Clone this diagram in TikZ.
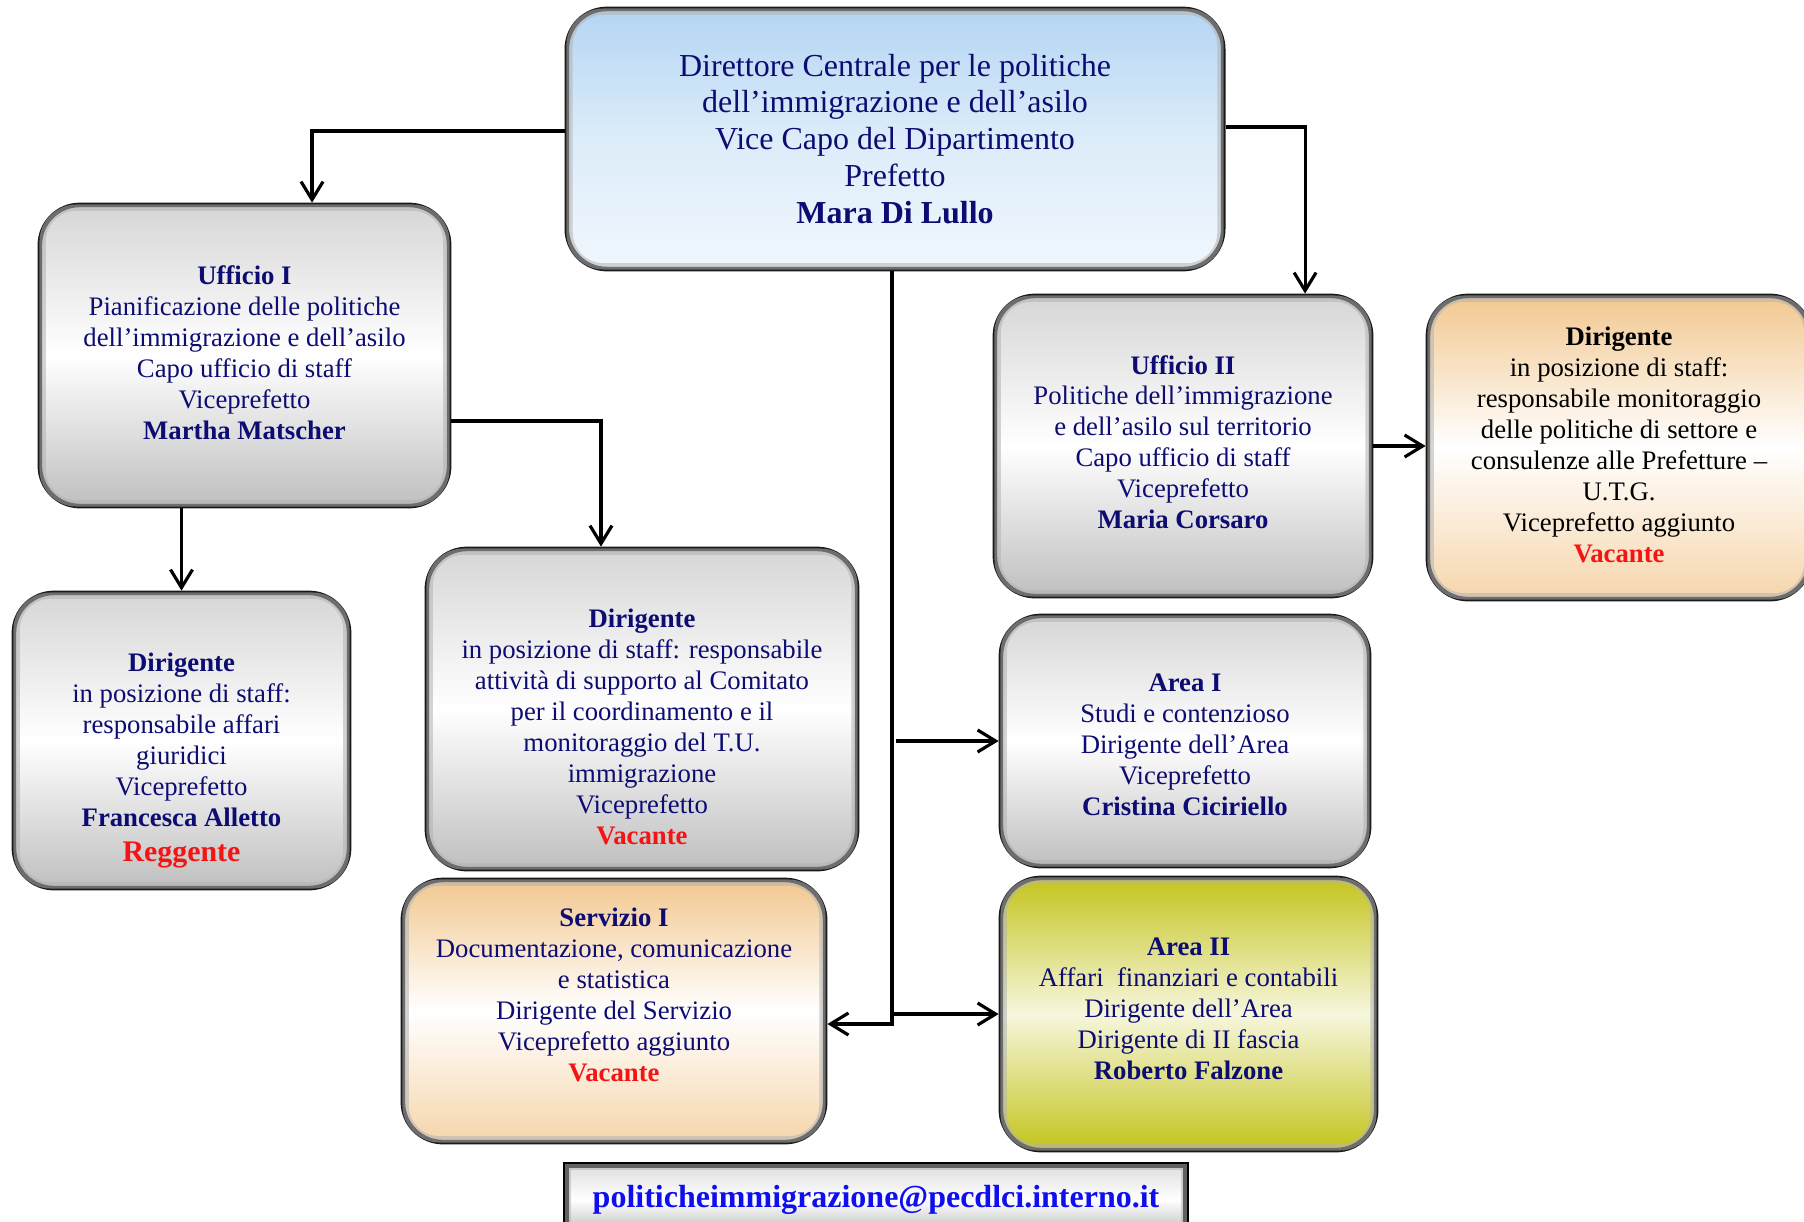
\documentclass[tikz,border=0pt]{standalone}
\usepackage{fontspec}
\setmainfont{Liberation Serif}
\usepackage{xcolor}
\usetikzlibrary{positioning, arrows.meta}
\definecolor{orgnavy}{HTML}{0C0C72}
\definecolor{orgred}{HTML}{F41414}
\definecolor{orgblue}{HTML}{0E0EEE}
\definecolor{orgskytop}{HTML}{B3D5F3}
\definecolor{orgskybot}{HTML}{F0F7FD}
\definecolor{orgpeach}{HTML}{F2C890}
\definecolor{orglime}{HTML}{C4C41E}
\newcommand{\boxfont}{\fontsize{7.6}{8.8}\selectfont}
\newcommand{\vacante}{\textcolor{orgred}{\textbf{Vacante}}}
\newcommand{\padtop}[1]{\rule{0pt}{\dimexpr#1+0.7em\relax}}
\newcommand{\padbot}[1]{\rule[-#1]{0pt}{#1}}

\tikzset{
  box/.style={rectangle, rounded corners=0.4cm, draw=black!90, line width=1.3pt, align=center, text=orgnavy, font=\boxfont, inner sep=0pt},
  greybox/.style={box, top color=gray!32, bottom color=gray!50, middle color=white},
  skybox/.style={box, top color=orgskytop, bottom color=orgskybot, middle color=orgskytop!45},
  peachbox/.style={box, top color=orgpeach, bottom color=orgpeach!75, middle color=white},
  limebox/.style={box, top color=orglime, bottom color=orglime, middle color=orglime!15},
  mailbox/.style={rectangle, draw=black, line width=1.6pt, top color=gray!25, bottom color=gray!55, middle color=white, text=orgblue, font=\fontsize{9.1}{11}\selectfont\bfseries, inner sep=0pt},
  bevel/.style={draw=gray!60, line width=1.8pt, opacity=0.55, rounded corners=0.34cm},
  conn/.style={line width=0.9pt, -{Straight Barb[length=1.8mm,width=2.2mm]}},
}

\begin{document}
\begin{tikzpicture}[x=0.01cm, y=-0.01cm]
  \useasboundingbox (0,0) rectangle (1804,1221);
  \node[skybox, minimum width=6.56cm, minimum height=2.6cm, font=\fontsize{9.1}{10.5}\selectfont] (dir) at (895,139)
    {Direttore Centrale per le politiche\\dell’immigrazione e dell’asilo\\Vice Capo del Dipartimento\\Prefetto\\\textbf{Mara Di Lullo}};
  \node[greybox, minimum width=4.09cm, minimum height=3.01cm] (uff1) at (244.5,355.5)
    {\textbf{Ufficio I}\\Pianificazione delle politiche\\dell’immigrazione e dell’asilo\\Capo ufficio di staff\\Viceprefetto\\\textbf{Martha Matscher}\padbot{0.06cm}};
  \node[greybox, minimum width=3.35cm, minimum height=2.95cm] (dirA) at (181.5,740.5)
    {\padtop{0.4cm}\textbf{Dirigente}\\in posizione di staff:\\responsabile affari\\giuridici\\Viceprefetto\\\textbf{Francesca Alletto}\\[1pt]\textcolor{orgred}{\fontsize{8.5}{10}\selectfont\textbf{Reggente}}};
  \node[greybox, minimum width=4.3cm, minimum height=3.2cm] (dirB) at (642,709)
    {\padtop{0.36cm}\textbf{Dirigente}\\in posizione di staff: responsabile\\attività di supporto al Comitato\\per il coordinamento e il\\monitoraggio del T.U.\\immigrazione\\Viceprefetto\\\vacante};
  \node[peachbox, minimum width=4.22cm, minimum height=2.62cm] (serv) at (614,1011)
    {\textbf{Servizio I}\\Documentazione, comunicazione\\e statistica\\Dirigente del Servizio\\Viceprefetto aggiunto\\\vacante\padbot{0.32cm}};
  \node[greybox, minimum width=3.76cm, minimum height=3.0cm] (uff2) at (1183,446)
    {\textbf{Ufficio II}\\Politiche dell’immigrazione\\e dell’asilo sul territorio\\Capo ufficio di staff\\Viceprefetto\\\textbf{Maria Corsaro}\padbot{0.08cm}};
  \node[peachbox, minimum width=3.82cm, minimum height=3.03cm, text=black] (dirC) at (1619,447.5)
    {\textbf{Dirigente}\\in posizione di staff:\\responsabile monitoraggio\\delle politiche di settore e\\consulenze alle Prefetture –\\U.T.G.\\Viceprefetto aggiunto\\\vacante\padbot{0.06cm}};
  \node[greybox, minimum width=3.68cm, minimum height=2.5cm] (area1) at (1185,741)
    {\padtop{0.07cm}\textbf{Area I}\\Studi e contenzioso\\Dirigente dell’Area\\Viceprefetto\\\textbf{Cristina Ciciriello}};
  \node[limebox, minimum width=3.75cm, minimum height=2.72cm] (area2) at (1188.5,1014)
    {\textbf{Area II}\\Affari\ \ finanziari e contabili\\Dirigente dell’Area\\Dirigente di II fascia\\\textbf{Roberto Falzone}\padbot{0.1cm}};
  \node[mailbox, minimum width=6.2cm, minimum height=0.7cm] (mail) at (876,1200)
    {politicheimmigrazione@pecdlci.interno.it};
  \foreach \n in {dir,uff1,dirA,dirB,serv,uff2,dirC,area1,area2}
    \draw[bevel] ([shift={(0.05cm,0.05cm)}]\n.south west) rectangle ([shift={(-0.05cm,-0.05cm)}]\n.north east);
  \draw[draw=gray!60, line width=1.8pt, opacity=0.55] ([shift={(0.05cm,0.05cm)}]mail.south west) rectangle ([shift={(-0.05cm,-0.05cm)}]mail.north east);
  \coordinate (trunk) at (892,1024);
  \draw[conn] ([yshift=0.08cm]dir.west) -| ([xshift=0.675cm]uff1.north);
  \draw[conn] ([yshift=0.12cm]dir.east) -| ([xshift=1.22cm]uff2.north);
  \draw[conn] (trunk |- dir.south) -- (trunk) -- (trunk -| serv.east);
  \draw[conn] (area2.west -| trunk) -- (area2.west);
  \draw[conn] ([xshift=0.04cm]area1.west -| trunk) -- (area1.west);
  \draw[conn] (dirA.north |- uff1.south) -- (dirA.north);
  \draw[conn] ([yshift=-0.655cm]uff1.east) -| ([xshift=-0.41cm]dirB.north);
  \draw[conn] (uff2.east) -- (uff2.east -| dirC.west);
\end{tikzpicture}
\end{document}
